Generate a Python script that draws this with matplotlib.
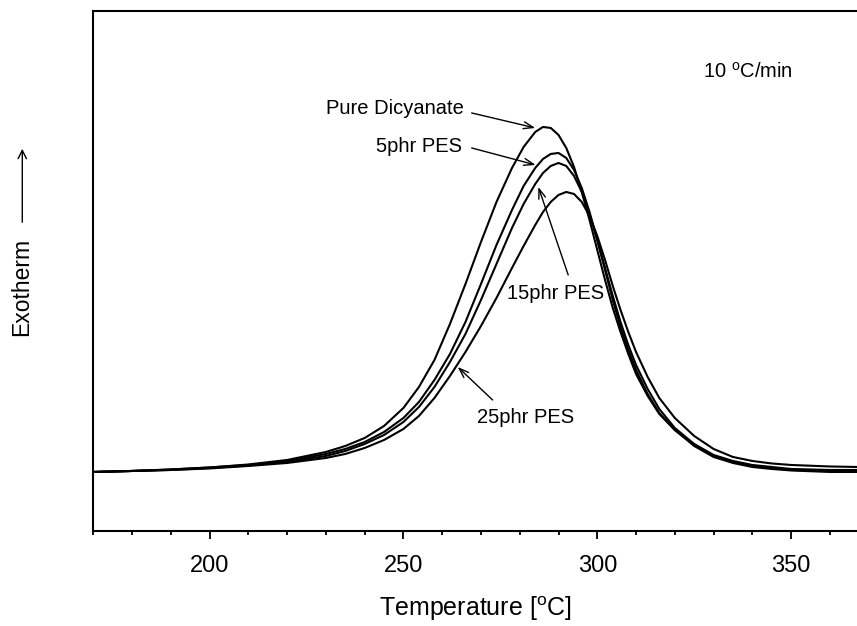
import matplotlib
matplotlib.use('Agg')
import matplotlib.pyplot as plt
from matplotlib.patches import FancyArrowPatch
from matplotlib.ticker import MultipleLocator, NullLocator

# 字体：Arial 风格
plt.rcParams['font.family'] = ['Liberation Sans', 'DejaVu Sans']
plt.rcParams['mathtext.fontset'] = 'custom'
plt.rcParams['mathtext.rm'] = 'Liberation Sans'

# DSC 动态升温曲线 (10 °C/min)，纵轴为放热量 (任意单位)
temp = [170, 180, 190, 200, 210, 220, 230, 235, 240, 245, 250, 254, 258, 262, 266,
        270, 274, 278, 281, 284, 286, 288, 290, 292, 294, 296, 298, 300, 302, 304,
        306, 308, 310, 313, 316, 320, 325, 330, 335, 340, 345, 350, 360, 367]

pure = [0.00, 0.01, 0.025, 0.045, 0.075, 0.12, 0.20, 0.26, 0.34, 0.46, 0.64, 0.85, 1.12, 1.48, 1.88,
        2.30, 2.70, 3.04, 3.25, 3.40, 3.45, 3.44, 3.37, 3.24, 3.05, 2.80, 2.52, 2.22, 1.92, 1.64,
        1.40, 1.18, 0.98, 0.76, 0.58, 0.42, 0.26, 0.15, 0.09, 0.05, 0.03, 0.015, 0.00, 0.00]

pes5 = [0.00, 0.01, 0.025, 0.045, 0.07, 0.11, 0.18, 0.23, 0.30, 0.40, 0.54, 0.70, 0.92, 1.18, 1.50,
        1.88, 2.27, 2.62, 2.86, 3.04, 3.13, 3.18, 3.19, 3.14, 3.02, 2.84, 2.60, 2.32, 2.02, 1.72,
        1.45, 1.22, 1.02, 0.78, 0.59, 0.42, 0.27, 0.16, 0.10, 0.06, 0.04, 0.02, 0.01, 0.01]

pes15 = [0.00, 0.01, 0.02, 0.04, 0.065, 0.10, 0.16, 0.21, 0.28, 0.37, 0.50, 0.65, 0.85, 1.10, 1.38,
         1.72, 2.08, 2.44, 2.68, 2.88, 2.99, 3.06, 3.09, 3.06, 2.96, 2.80, 2.58, 2.32, 2.04, 1.76,
         1.50, 1.27, 1.07, 0.83, 0.63, 0.44, 0.28, 0.17, 0.11, 0.07, 0.05, 0.03, 0.02, 0.02]

pes25 = [0.00, 0.01, 0.02, 0.035, 0.06, 0.09, 0.14, 0.18, 0.24, 0.32, 0.43, 0.56, 0.74, 0.96, 1.20,
         1.46, 1.74, 2.04, 2.26, 2.47, 2.60, 2.70, 2.77, 2.80, 2.78, 2.70, 2.56, 2.36, 2.12, 1.86,
         1.62, 1.40, 1.20, 0.95, 0.74, 0.54, 0.36, 0.23, 0.15, 0.11, 0.085, 0.07, 0.055, 0.05]

fig = plt.figure(figsize=(8.57, 6.26), dpi=100)
ax = fig.add_axes([0.1089, 0.1518, 0.8911, 0.8307])

for y in (pure, pes5, pes15, pes25):
    ax.plot(temp, y, color='black', lw=1.5)

ax.set_xlim(170, 367)
ax.set_ylim(-0.59, 4.61)

# 坐标轴样式
ax.spines['right'].set_visible(False)
for s in ('left', 'bottom', 'top'):
    ax.spines[s].set_linewidth(1.5)
ax.xaxis.set_major_locator(MultipleLocator(50))
ax.xaxis.set_minor_locator(MultipleLocator(10))
ax.yaxis.set_major_locator(NullLocator())
ax.tick_params(axis='x', which='major', direction='out', length=6, width=1.3,
               labelsize=17, pad=11, top=False)
ax.tick_params(axis='x', which='minor', direction='out', length=3, width=1.3, top=False)

ax.set_xlabel(r'Temperature [$^{\mathrm{o}}$C]', fontsize=18, labelpad=13)

# 纵轴标签：Exotherm + 向上箭头
fig.text(0.025, 1 - 287 / 626, 'Exotherm', rotation=90, fontsize=16.5,
         ha='center', va='center')
fig.patches.append(FancyArrowPatch(
    (0.026, 1 - 225 / 626), (0.026, 1 - 146 / 626), transform=fig.transFigure,
    arrowstyle='->,head_length=6,head_width=3', lw=1, color='black',
    mutation_scale=1))

# 曲线标注
arrow = dict(arrowstyle='->,head_length=0.7,head_width=0.25', lw=1, color='black',
             shrinkA=0, shrinkB=0)
ax.text(265.5, 3.63, 'Pure Dicyanate', fontsize=14.5, ha='right', va='center')
ax.annotate('', xy=(284.0, 3.44), xytext=(267.6, 3.59), arrowprops=arrow)

ax.text(265.0, 3.25, '5phr PES', fontsize=14.5, ha='right', va='center')
ax.annotate('', xy=(284.1, 3.07), xytext=(267.6, 3.24), arrowprops=arrow)

ax.text(289.2, 1.78, '15phr PES', fontsize=14.5, ha='center', va='center')
ax.annotate('', xy=(284.8, 2.85), xytext=(292.5, 1.97), arrowprops=arrow)

ax.text(281.5, 0.54, '25phr PES', fontsize=14.5, ha='center', va='center')
ax.annotate('', xy=(264.0, 1.05), xytext=(273.0, 0.72), arrowprops=arrow)

ax.text(338.9, 4.0, r'10 $^{\mathrm{o}}$C/min', fontsize=14.5, ha='center', va='center')

fig.savefig('out.png', dpi=100)
